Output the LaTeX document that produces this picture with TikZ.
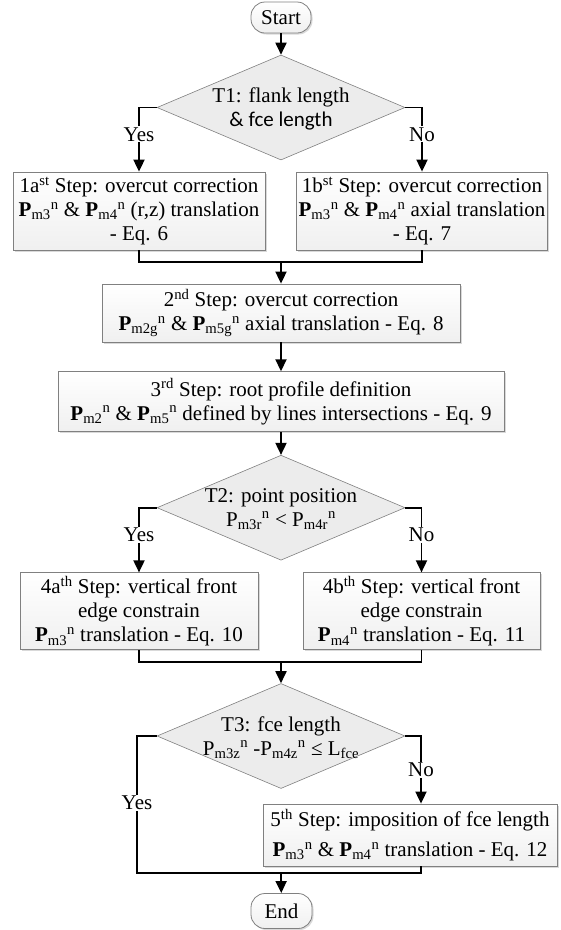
\documentclass[tikz,border=0pt]{standalone}
\usepackage{fontspec}
\setmainfont{Liberation Serif}
\newfontfamily\calfont{Carlito}
\usetikzlibrary{arrows.meta,shapes.geometric,shadows}

\newcommand{\Pb}[1]{\textbf{P}\textsubscript{#1}\textsuperscript{n}}
\newcommand{\Pn}[1]{P\textsubscript{#1}\textsuperscript{n}}

\begin{document}
\begin{tikzpicture}[x = 1pt, y = -1pt, font = \fontsize{21}{24}\selectfont]
    \useasboundingbox (0,0) rectangle (561,930);

    \tikzset{StepBox/.style = {draw = gray, line width = 0.8pt, top color = white,
        bottom color = gray!12, align = center, inner sep = 2pt,
        drop shadow = {shadow xshift = 1.5pt, shadow yshift = -1.5pt, opacity = 0.3}}}
    \tikzset{TermBox/.style = {StepBox, rounded corners = 14pt}}
    \tikzset{Decision/.style = {shape = diamond, draw = gray, line width = 0.6pt,
        fill = gray!15, inner sep = 0pt, minimum width = 248pt, minimum height = 105pt}}
    \tikzset{DecText/.style = {align = center, inner sep = 0pt}}
    \tikzset{Line/.style = {line width = 1.8pt}}
    \tikzset{Flow/.style = {Line, -{Triangle[length = 12pt, width = 11pt]}}}   % arrows
    \tikzset{Answer/.style = {fill = white, inner sep = 1pt}}

    \node[TermBox, minimum width = 60pt, minimum height = 31pt] (start) at (281,17.5) {Start};

    \node[Decision] (t1) at (281,107.5) {};
    \node[DecText] (t1txt) at (281,109) {T1: flank length\\{\calfont\& fce length}};

    \node[StepBox, minimum width = 252pt, minimum height = 78pt] (s1a) at (139,211)
        {1a\textsuperscript{st} Step: overcut correction\\
         \Pb{m3} \& \Pb{m4} (r,z) translation\\ - Eq. 6};
    \node[StepBox, minimum width = 250pt, minimum height = 78pt] (s1b) at (422,211)
        {1b\textsuperscript{st} Step: overcut correction\\
         \Pb{m3} \& \Pb{m4} axial translation\\ - Eq. 7};
    \coordinate (j1) at (281,261.7);

    \node[StepBox, minimum width = 358pt, minimum height = 58pt] (s2) at (281,313)
        {2\textsuperscript{nd} Step: overcut correction\\
         \Pb{m2g} \& \Pb{m5g} axial translation - Eq. 8};
    \node[StepBox, minimum width = 446pt, minimum height = 60pt] (s3) at (281,401.7)
        {3\textsuperscript{rd} Step: root profile definition\\
         \Pb{m2} \& \Pb{m5} defined by lines intersections - Eq. 9};

    \node[Decision] (t2) at (281,507.7) {};
    \node[DecText] (t2txt) at (281,509) {T2: point position\\ \Pn{m3r} < \Pn{m4r}};

    \node[StepBox, minimum width = 238pt, minimum height = 77pt] (s4a) at (139,611.3)
        {4a\textsuperscript{th} Step: vertical front\\ edge constrain\\
         \Pb{m3} translation - Eq. 10};
    \node[StepBox, minimum width = 237pt, minimum height = 77pt] (s4b) at (421.5,611.3)
        {4b\textsuperscript{th} Step: vertical front\\ edge constrain\\
         \Pb{m4} translation - Eq. 11};
    \coordinate (j2) at (281,661.7);

    \node[Decision] (t3) at (281,736) {};
    \node[DecText] (t3txt) at (281,737.5) {T3: fce length\\ \Pn{m3z} -\Pn{m4z} ≤ L\textsubscript{fce}};

    \node[StepBox, minimum width = 294pt, minimum height = 62pt] (s5) at (410,835)
        {5\textsuperscript{th} Step: imposition of fce length\\[6pt]
         \Pb{m3} \& \Pb{m4} translation - Eq. 12};
    \coordinate (y3) at (137,873);
    \coordinate (j3) at (281,873);

    \node[TermBox, minimum width = 61pt, minimum height = 35pt] (end) at (281.5,911) {End};

    % connectors
    \draw[Flow] (start) -- (t1);
    \draw[Flow] (t1.west) -| node[Answer, pos = 0.71] {Yes} (s1a.north);
    \draw[Flow] (t1.east) -| node[Answer, pos = 0.71] {No} (s1b.north);
    \draw[Line] (s1a.south) |- (j1) -| (s1b.south);
    \draw[Flow] (j1) -- (s2);
    \draw[Flow] (s2) -- (s3);
    \draw[Flow] (s3) -- (t2);
    \draw[Flow] (t2.west) -| node[Answer, pos = 0.71] {Yes} (s4a.north);
    \draw[Flow] (t2.east) -| node[Answer, pos = 0.71] {No} (s4b.north);
    \draw[Line] (s4a.south) |- (j2) -| (s4b.south);
    \draw[Flow] (j2) -- (t3);
    \draw[Line] (t3.west) -| node[Answer, pos = 0.745] {Yes} (y3) -- (j3);
    \draw[Flow] (t3.east) -| node[Answer, pos = 0.75] {No} ([xshift = 11pt]s5.north);
    \draw[Line] ([xshift = 11pt]s5.south) |- (j3);
    \draw[Flow] (j3) -- (end);

\end{tikzpicture}
\end{document}
